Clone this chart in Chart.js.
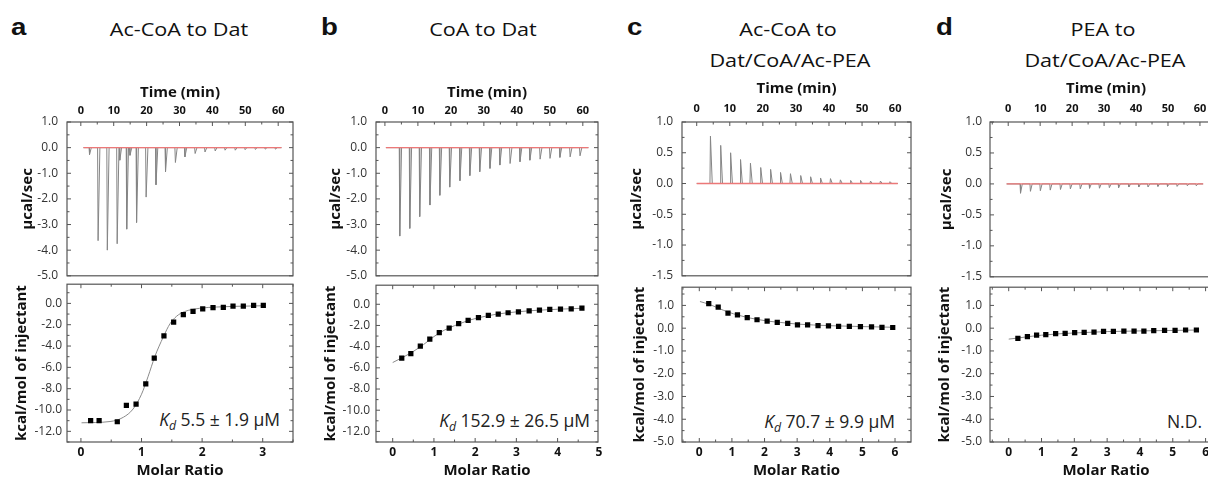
<!DOCTYPE html>
<html>
<head>
<meta charset="utf-8">
<script src="https://cdn.jsdelivr.net/npm/chart.js@4.4.1/dist/chart.umd.min.js"></script>
<style>
  html, body { margin: 0; padding: 0; background: #fff; width: 1208px; height: 481px; overflow: hidden; position: relative; }
  canvas { position: absolute; }
  .lt { position: absolute; font: bold 24px 'Liberation Sans'; line-height: 1; transform: scaleX(1.15); transform-origin: left; color: #111; }
  .tt { position: absolute; font: 18px 'Open Sans'; line-height: 1; white-space: nowrap; transform: translate(-50%, -50%) scaleX(1.2); color: #111; }
  .kd { position: absolute; font: 17.5px 'Open Sans'; line-height: 1; white-space: nowrap; transform: translate(-100%, -50%); color: #222; }
  .kd sub { font-size: 0.7em; font-style: italic; vertical-align: -0.3em; line-height: 0; }
</style>
</head>
<body>
<div class="lt" style="left:11px;top:15px">a</div>
<div class="lt" style="left:321px;top:15px">b</div>
<div class="lt" style="left:627px;top:15px">c</div>
<div class="lt" style="left:936px;top:15px">d</div>

<div class="tt" style="left:179px;top:29px">Ac-CoA to Dat</div>
<div class="tt" style="left:483px;top:29px">CoA to Dat</div>
<div class="tt" style="left:788px;top:29px">Ac-CoA to</div>
<div class="tt" style="left:790px;top:60px">Dat/CoA/Ac-PEA</div>
<div class="tt" style="left:1103px;top:29px">PEA to</div>
<div class="tt" style="left:1105px;top:60px">Dat/CoA/Ac-PEA</div>

<div class="kd" style="left:280px;top:420px"><i>K</i><sub>d</sub> 5.5 ± 1.9 µM</div>
<div class="kd" style="left:590px;top:421px"><i>K</i><sub>d</sub> 152.9 ± 26.5 µM</div>
<div class="kd" style="left:895px;top:422px"><i>K</i><sub>d</sub> 70.7 ± 9.9 µM</div>
<div class="kd" style="left:1202px;top:422px">N.D.</div>

<script>
// ===============================
// TICK LABELS
// ===============================
const timeTicks = [0, 10, 20, 30, 40, 50, 60];
const rawTicksWide = [1, 0, -1, -2, -3, -4, -5];
const rawTicksNarrow = [1, 0.5, 0, -0.5, -1, -1.5];
const heatTicksWide = [0, -2, -4, -6, -8, -10, -12];
const heatTicksNarrow = [1, 0, -1, -2, -3, -4, -5];
const molarTicksA = [0, 1, 2, 3];
const molarTicksB = [0, 1, 2, 3, 4, 5];
const molarTicksCD = [0, 1, 2, 3, 4, 5, 6];

// ===============================
// a - Ac-CoA to Dat
// ===============================
const aInjTime = [2.5, 5.1, 7.9, 10.9, 11.7, 13.8, 14.8, 16.8, 19.7, 22.7, 25.6, 28.6, 31.5, 34.6, 37.6, 40.7, 43.7, 46.8, 49.8, 52.9, 55.9, 59.0];
const aPeak = [-0.27, -3.63, -4.0, -3.75, -0.49, -3.18, -0.3, -2.92, -1.93, -1.45, -0.94, -0.58, -0.36, -0.23, -0.17, -0.13, -0.10, -0.10, -0.08, -0.07, -0.06, -0.06];
const aBaseline = [0.8, 61.0];
const aMolar = [0.16, 0.30, 0.60, 0.75, 0.91, 1.07, 1.21, 1.37, 1.53, 1.69, 1.85, 2.01, 2.18, 2.35, 2.51, 2.68, 2.85, 3.01];
const aHeat = [-11.0, -11.0, -11.1, -9.57, -9.45, -7.54, -5.14, -3.05, -1.75, -1.05, -0.74, -0.52, -0.40, -0.37, -0.25, -0.25, -0.18, -0.18];
const aFitMolar = [0.01, 0.48, 0.70, 0.86, 1.00, 1.11, 1.22, 1.36, 1.47, 1.58, 1.71, 1.96, 2.24, 2.51, 3.01];
const aFitHeat = [-11.2, -11.08, -10.68, -9.91, -8.52, -6.83, -4.98, -3.14, -1.91, -1.2, -0.77, -0.46, -0.34, -0.28, -0.22];

// ===============================
// b - CoA to Dat
// ===============================
const bInjTime = [4.35, 7.39, 10.4, 13.5, 16.5, 19.5, 22.6, 25.6, 28.6, 31.7, 34.7, 37.8, 40.8, 43.8, 46.9, 49.9, 52.9, 56.0, 59.0];
const bPeak = [-3.45, -3.15, -2.69, -2.24, -1.86, -1.54, -1.29, -1.09, -0.94, -0.81, -0.68, -0.62, -0.55, -0.49, -0.45, -0.42, -0.38, -0.36, -0.32];
const bBaseline = [0.3, 61.7];
const bMolar = [0.22, 0.44, 0.67, 0.90, 1.13, 1.37, 1.60, 1.83, 2.08, 2.32, 2.56, 2.80, 3.05, 3.31, 3.56, 3.81, 4.07, 4.33, 4.59];
const bHeat = [-5.08, -4.65, -3.94, -3.29, -2.68, -2.25, -1.82, -1.51, -1.26, -1.05, -0.92, -0.80, -0.71, -0.62, -0.55, -0.49, -0.46, -0.43, -0.37];
const bFitMolar = [0, 0.25, 0.5, 0.75, 1.0, 1.25, 1.5, 1.75, 2.0, 2.5, 3.0, 3.5, 4.0, 4.6];
const bFitHeat = [-5.5, -5.0, -4.45, -3.8, -3.05, -2.45, -2.02, -1.65, -1.35, -0.95, -0.72, -0.57, -0.47, -0.38];

// ===============================
// c - Ac-CoA to Dat/CoA/Ac-PEA
// ===============================
const cInjTime = [4.0, 7.1, 10.1, 13.1, 16.1, 19.2, 22.2, 25.2, 28.2, 31.3, 34.3, 37.3, 40.3, 43.3, 46.4, 49.4, 52.4, 55.4, 58.3];
const cPeak = [0.77, 0.62, 0.50, 0.39, 0.33, 0.26, 0.23, 0.18, 0.16, 0.13, 0.11, 0.09, 0.08, 0.06, 0.05, 0.05, 0.04, 0.04, 0.03];
const cBaseline = [0, 60.8];
const cMolar = [0.29, 0.58, 0.88, 1.17, 1.47, 1.77, 2.08, 2.39, 2.71, 3.01, 3.32, 3.64, 3.96, 4.27, 4.60, 4.94, 5.28, 5.60, 5.93];
const cHeat = [1.08, 0.92, 0.66, 0.58, 0.46, 0.37, 0.31, 0.25, 0.21, 0.14, 0.14, 0.11, 0.10, 0.08, 0.08, 0.07, 0.06, 0.04, 0.03];
const cFitMolar = [0.02, 0.3, 0.6, 0.9, 1.2, 1.5, 1.8, 2.1, 2.5, 3.0, 3.5, 4.0, 5.0, 5.95];
const cFitHeat = [1.17, 1.05, 0.87, 0.7, 0.57, 0.46, 0.38, 0.31, 0.25, 0.18, 0.14, 0.11, 0.07, 0.04];

// ===============================
// d - PEA to Dat/CoA/Ac-PEA
// ===============================
const dInjTime = [3.7, 6.8, 9.9, 13.0, 16.2, 19.3, 22.4, 25.3, 28.4, 31.5, 34.4, 37.6, 40.7, 43.6, 46.7, 49.7, 52.7, 55.9, 58.7];
const dPeak = [-0.15, -0.12, -0.11, -0.10, -0.09, -0.08, -0.08, -0.07, -0.07, -0.06, -0.06, -0.05, -0.05, -0.05, -0.04, -0.04, -0.04, -0.03, -0.03];
const dBaseline = [-0.5, 61.0];
const dMolar = [0.28, 0.57, 0.85, 1.13, 1.43, 1.72, 2.01, 2.30, 2.60, 2.89, 3.19, 3.51, 3.82, 4.12, 4.42, 4.75, 5.07, 5.39, 5.72];
const dHeat = [-0.45, -0.37, -0.31, -0.28, -0.24, -0.23, -0.20, -0.18, -0.17, -0.14, -0.14, -0.13, -0.13, -0.13, -0.11, -0.10, -0.10, -0.08, -0.08];
const dFitMolar = [0, 0.3, 0.6, 1.0, 1.5, 2.0, 3.0, 4.0, 5.0, 5.8];
const dFitHeat = [-0.48, -0.43, -0.37, -0.31, -0.25, -0.21, -0.15, -0.12, -0.10, -0.08];

// ===============================
// layout (pixels) - kept apart from the data
// ===============================
const AXW = 67, TOP_Y = 122, MID_Y = 282, BOT_Y = 442;
const TOPAX = 52, BOTAX = 42, PADR = 12, PADB = 10;
const FONT = 'Open Sans';

const panels = [
  { left: 67, right: 293, tMin: -4.2, tMax: 64.5, mMin: -0.23, mMax: 3.5, rawMin: -5, rawMax: 1, heatMin: -13, heatMax: 1.8,
    rawTicks: rawTicksWide, heatTicks: heatTicksWide, molarTicks: molarTicksA,
    inj: aInjTime, peak: aPeak, base: aBaseline, molar: aMolar, heat: aHeat, fitM: aFitMolar, fitH: aFitHeat,
    timeTitlePad: 14, timeTickPad: 5, rawTitlePad: 19, heatTitlePad: 13, rawTickPad: 9, heatTickPad: 5 },
  { left: 376, right: 598, tMin: -2.7, tMax: 64.6, mMin: -0.405, mMax: 4.98, rawMin: -5, rawMax: 1, heatMin: -13, heatMax: 1.8,
    rawTicks: rawTicksWide, heatTicks: heatTicksWide, molarTicks: molarTicksB,
    inj: bInjTime, peak: bPeak, base: bBaseline, molar: bMolar, heat: bHeat, fitM: bFitMolar, fitH: bFitHeat,
    timeTitlePad: 14, timeTickPad: 5, rawTitlePad: 18, heatTitlePad: 13, rawTickPad: 9, heatTickPad: 6 },
  { left: 682, right: 911, tMin: -4.45, tMax: 64.8, mMin: -0.53, mMax: 6.49, rawMin: -1.5, rawMax: 1, heatMin: -5, heatMax: 1.8,
    rawTicks: rawTicksNarrow, heatTicks: heatTicksNarrow, molarTicks: molarTicksCD,
    inj: cInjTime, peak: cPeak, base: cBaseline, molar: cMolar, heat: cHeat, fitM: cFitMolar, fitH: cFitHeat,
    timeTitlePad: 10, timeTickPad: 7, rawTitlePad: 13, heatTitlePad: 16, rawTickPad: 9, heatTickPad: 8 },
  { left: 990, right: 1222, tMin: -5.7, tMax: 66.9, mMin: -0.57, mMax: 6.5, rawMin: -1.5, rawMax: 1, heatMin: -5, heatMax: 1.8,
    rawTicks: rawTicksNarrow, heatTicks: heatTicksNarrow, molarTicks: molarTicksCD,
    inj: dInjTime, peak: dPeak, base: dBaseline, molar: dMolar, heat: dHeat, fitM: dFitMolar, fitH: dFitHeat,
    timeTitlePad: 10, timeTickPad: 7, rawTitlePad: 15, heatTitlePad: 13, rawTickPad: 8, heatTickPad: 8 },
];

// minor ticks halfway between the labelled ones, across the axis range
function minorTicks(major, min, max) {
  const half = Math.abs(major[1] - major[0]) / 2;
  const out = [];
  for (let v = major[0] - 40 * half; v <= max + 1e-9; v += half) {
    if (v < min - 1e-9) continue;
    if (major.some(m => Math.abs(m - v) < 1e-6)) continue;
    out.push(+v.toFixed(4));
  }
  return out;
}

// frame round the plot area plus inward tick marks
const frameTicks = {
  id: 'frameTicks',
  afterDatasetsDraw(chart, args, o) {
    const { ctx, chartArea: a, scales } = chart;
    ctx.save();
    ctx.strokeStyle = '#555';
    ctx.lineWidth = 1.2;
    ctx.strokeRect(a.left, a.top, a.right - a.left, a.bottom - a.top);
    ctx.lineWidth = 1;
    ctx.beginPath();
    const xt = (vals, len) => vals.forEach(v => {
      const px = scales.x.getPixelForValue(v);
      if (px < a.left || px > a.right) return;
      if (o.xEdges.includes('top')) { ctx.moveTo(px, a.top); ctx.lineTo(px, a.top + len); }
      if (o.xEdges.includes('bottom')) { ctx.moveTo(px, a.bottom); ctx.lineTo(px, a.bottom - len); }
    });
    const yt = (vals, len) => vals.forEach(v => {
      const py = scales.y.getPixelForValue(v);
      if (py < a.top || py > a.bottom) return;
      ctx.moveTo(a.left, py); ctx.lineTo(a.left + len, py);
      ctx.moveTo(a.right, py); ctx.lineTo(a.right - len, py);
    });
    xt(o.xMajor, 4); xt(o.xMinor, 2.5);
    yt(o.yMajor, 4); yt(o.yMinor, 2.5);
    ctx.stroke();
    ctx.restore();
  }
};

function addCanvas(x, y, w, h) {
  const c = document.createElement('canvas');
  c.width = w; c.height = h;
  c.style.left = x + 'px'; c.style.top = y + 'px';
  c.style.width = w + 'px'; c.style.height = h + 'px';
  document.body.appendChild(c);
  return c;
}

function spikeSeries(times, peaks, base) {
  const pts = [{ x: base[0], y: 0 }];
  times.forEach((t, i) => {
    pts.push({ x: t, y: 0 }, { x: t + 0.15, y: peaks[i] }, { x: t + 0.7, y: 0 });
  });
  pts.push({ x: base[1], y: 0 });
  return pts;
}

const pairs = (xs, ys) => xs.map((x, i) => ({ x, y: ys[i] }));

const common = {
  responsive: false,
  animation: false,
  devicePixelRatio: 1,
  events: [],
};

function yAxis(min, max, ticks, title, titlePad, tickPad) {
  return {
    type: 'linear', position: 'left', min, max,
    grid: { display: false, drawTicks: false }, border: { display: false },
    ticks: { font: { family: FONT, size: 12 }, color: '#333', padding: tickPad, autoSkip: false, callback: v => v.toFixed(1) },
    title: { display: true, text: title, color: '#111', font: { family: FONT, size: 15, weight: 'bold' }, padding: { top: titlePad, bottom: 0 } },
    afterBuildTicks: s => { s.ticks = ticks.map(v => ({ value: v })); },
    afterFit: s => { s.width = AXW; },
  };
}

function makePanel(p) {
  const plotW = p.right - p.left;
  const plotH = BOT_Y - MID_Y;

  // raw thermogram (top)
  const topCv = addCanvas(p.left - AXW, TOP_Y - TOPAX, AXW + plotW + PADR, TOPAX + (MID_Y - TOP_Y) + PADB);
  new Chart(topCv, {
    type: 'scatter',
    data: {
      datasets: [
        { data: pairs(p.base, [0, 0]), showLine: true, borderColor: 'rgb(236,120,120)', borderWidth: 1.3, pointRadius: 0, order: -1 },
        { data: spikeSeries(p.inj, p.peak, p.base), showLine: true, borderColor: '#858585', borderWidth: 1, pointRadius: 0, tension: 0 },
      ]
    },
    options: {
      ...common,
      layout: { padding: { top: 0, left: 0, right: PADR, bottom: PADB } },
      plugins: {
        legend: { display: false },
        tooltip: { enabled: false },
        frameTicks: {
          xEdges: ['top'],
          xMajor: timeTicks, xMinor: minorTicks(timeTicks, p.tMin, p.tMax),
          yMajor: p.rawTicks, yMinor: minorTicks(p.rawTicks, p.rawMin, p.rawMax),
        },
      },
      scales: {
        x: {
          type: 'linear', position: 'top', min: p.tMin, max: p.tMax,
          grid: { display: false, drawTicks: false }, border: { display: false },
          ticks: { font: { family: FONT, size: 11, weight: 'bold' }, color: '#111', padding: p.timeTickPad, autoSkip: false, maxRotation: 0, callback: v => v },
          title: { display: true, text: 'Time (min)', color: '#111', font: { family: FONT, size: 15, weight: 'bold' }, padding: { top: p.timeTitlePad, bottom: 0 } },
          afterBuildTicks: s => { s.ticks = timeTicks.map(v => ({ value: v })); },
          afterFit: s => { s.height = TOPAX; },
        },
        y: yAxis(p.rawMin, p.rawMax, p.rawTicks, 'µcal/sec', p.rawTitlePad, p.rawTickPad),
      }
    },
    plugins: [frameTicks]
  });

  // integrated heats (bottom)
  const botCv = addCanvas(p.left - AXW, MID_Y - PADB, AXW + plotW + PADR, PADB + plotH + BOTAX);
  new Chart(botCv, {
    type: 'scatter',
    data: {
      datasets: [
        { data: pairs(p.molar, p.heat), pointStyle: 'rect', pointRadius: 3.7, backgroundColor: '#000', borderColor: '#000', borderWidth: 0 },
        { data: pairs(p.fitM, p.fitH), showLine: true, borderColor: '#8a8a8a', borderWidth: 1, pointRadius: 0, tension: 0.4, cubicInterpolationMode: 'monotone' },
      ]
    },
    options: {
      ...common,
      layout: { padding: { top: PADB, left: 0, right: PADR, bottom: 0 } },
      plugins: {
        legend: { display: false },
        tooltip: { enabled: false },
        frameTicks: {
          xEdges: ['top', 'bottom'],
          xMajor: p.molarTicks, xMinor: minorTicks(p.molarTicks, p.mMin, p.mMax),
          yMajor: p.heatTicks, yMinor: minorTicks(p.heatTicks, p.heatMin, p.heatMax),
        },
      },
      scales: {
        x: {
          type: 'linear', position: 'bottom', min: p.mMin, max: p.mMax,
          grid: { display: false, drawTicks: false }, border: { display: false },
          ticks: { font: { family: FONT, size: 12, weight: 'bold' }, color: '#111', padding: 3, autoSkip: false, maxRotation: 0, callback: v => v },
          title: { display: true, text: 'Molar Ratio', color: '#111', font: { family: FONT, size: 15, weight: 'bold' }, padding: { top: 0, bottom: 4 } },
          afterBuildTicks: s => { s.ticks = p.molarTicks.map(v => ({ value: v })); },
          afterFit: s => { s.height = BOTAX; },
        },
        y: yAxis(p.heatMin, p.heatMax, p.heatTicks, 'kcal/mol of injectant', p.heatTitlePad, p.heatTickPad),
      }
    },
    plugins: [frameTicks]
  });
}

panels.forEach(makePanel);
</script>
</body>
</html>
